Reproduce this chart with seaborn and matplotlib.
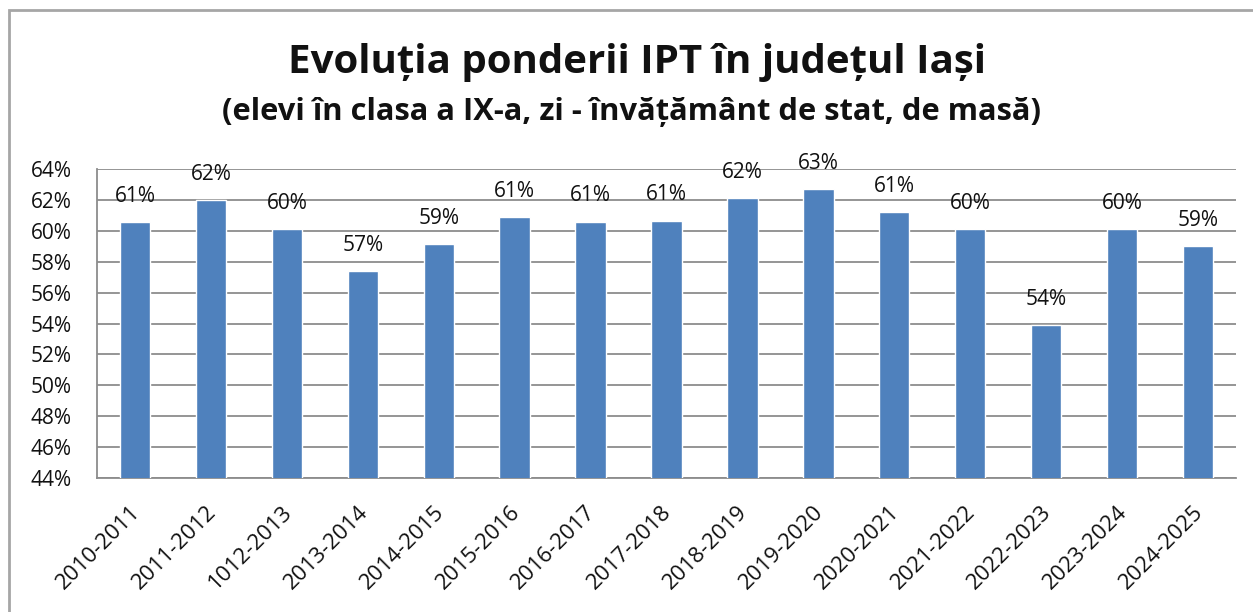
import matplotlib
matplotlib.use("Agg")
import matplotlib.pyplot as plt
import matplotlib.transforms as mtransforms
from matplotlib.patches import Rectangle
from matplotlib.ticker import FixedLocator, FuncFormatter
import seaborn as sns
import pandas as pd

# School years (labels kept as published) and IPT share of 9th-grade pupils, %
school_years = ["2010-2011", "2011-2012", "1012-2013", "2013-2014", "2014-2015",
                "2015-2016", "2016-2017", "2017-2018", "2018-2019", "2019-2020",
                "2020-2021", "2021-2022", "2022-2023", "2023-2024", "2024-2025"]
ipt_share = [60.55, 62.0, 60.1, 57.4, 59.15, 60.9, 60.6, 60.65, 62.1, 62.7,
             61.2, 60.1, 53.9, 60.1, 59.0]
y_ticks = list(range(44, 65, 2))

sns.set_theme(style="white")
plt.rcParams["font.family"] = ["Open Sans", "DejaVu Sans"]

df = pd.DataFrame({"an": school_years, "pondere": ipt_share})

fig = plt.figure(figsize=(12.53, 6.12), dpi=100)
ax = fig.add_axes([97 / 1253, 1 - 478 / 612, (1236 - 97) / 1253, (478 - 169) / 612])

sns.barplot(data=df, x="an", y="pondere", color="#4F81BD", saturation=1,
            width=0.4, ax=ax, zorder=3)

grid_c = "#8c8c8c"
text_c = "#111111"
ax.set_ylim(y_ticks[0], y_ticks[-1])
ax.set_xlim(-0.5, len(school_years) - 0.5)
ax.yaxis.set_major_locator(FixedLocator(y_ticks))
ax.yaxis.set_major_formatter(FuncFormatter(lambda v, p: f"{v:.0f}%"))
ax.grid(axis="y", color=grid_c, linewidth=1.3, zorder=0)
ax.set_axisbelow(True)
for side in ("top", "right"):
    ax.spines[side].set_visible(False)
for side in ("left", "bottom"):
    ax.spines[side].set_color(grid_c)
    ax.spines[side].set_linewidth(1.3)

ax.set_xlabel("")
ax.set_ylabel("")
ax.tick_params(axis="y", length=7, width=1.3, color=grid_c, direction="out",
               labelsize=15, pad=11, labelcolor=text_c)
ax.xaxis.set_minor_locator(FixedLocator([i - 0.5 for i in range(len(school_years) + 1)]))
ax.tick_params(axis="x", which="minor", length=6, width=1.3, color=grid_c, direction="out")
ax.tick_params(axis="x", which="major", length=0, labelsize=16, labelcolor=text_c)
ax.set_xticks(range(len(school_years)))
ax.set_xticklabels(school_years, rotation=45, ha="right", va="center",
                   rotation_mode="anchor")
shift = mtransforms.ScaledTranslation(2 / 100, -26 / 100, fig.dpi_scale_trans)
for lab in ax.get_xticklabels():
    lab.set_transform(lab.get_transform() + shift)

ax.bar_label(ax.containers[0], labels=[f"{v:.0f}%" for v in ipt_share],
             padding=11, fontsize=15, color=text_c)

fig.text(637 / 1253, 1 - 63 / 612, "Evoluția ponderii IPT în județul Iași",
         ha="center", va="center", fontsize=29, fontweight="bold", color=text_c)
fig.text(632 / 1253, 1 - 112 / 612, "(elevi în clasa a IX-a, zi - învățământ de stat, de masă)",
         ha="center", va="center", fontsize=22.2, fontweight="bold", color=text_c)

# Chart frame
fig.patches.append(Rectangle((8.5 / 1253, -0.05), 1.2, 1 - 9.5 / 612 + 0.05,
                             transform=fig.transFigure, fill=False,
                             edgecolor="#a6a6a6", linewidth=2))

fig.savefig("out.png", dpi=100)
